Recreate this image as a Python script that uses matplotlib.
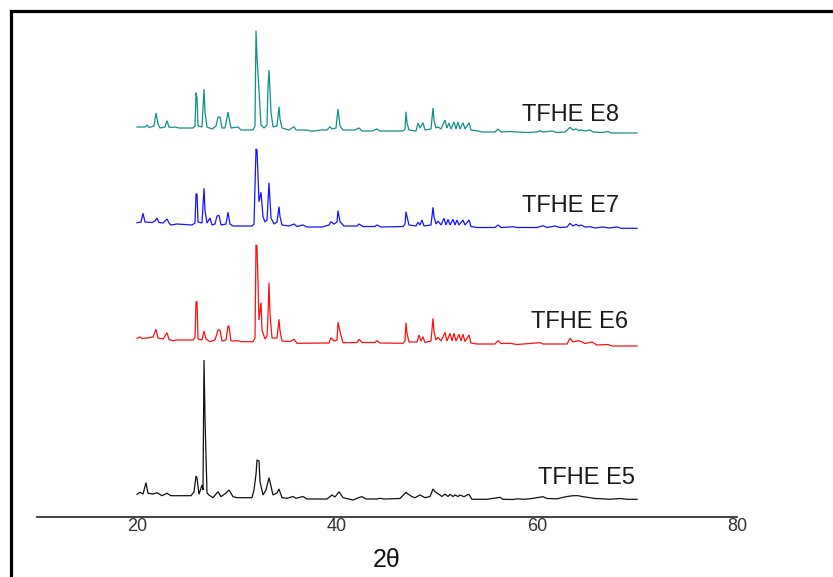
import matplotlib
matplotlib.use("Agg")
import matplotlib.pyplot as plt
from matplotlib.lines import Line2D

plt.rcParams['font.family'] = ['Liberation Sans', 'DejaVu Sans']

# 2theta positions and intensities (arbitrary units)
e8_2theta = [20.0, 20.8, 21.0, 21.2, 21.7, 21.9, 22.1, 22.3, 22.8, 23.0, 23.2, 23.5, 23.8, 24.2,
             25.6, 25.8, 25.9, 26.0, 26.1, 26.5, 26.7, 26.8, 27.0, 27.5, 27.9, 28.1, 28.3, 28.5,
             28.8, 29.1, 29.2, 29.4, 30.1, 30.4, 31.6, 31.8, 31.9, 32.0, 32.2, 32.4, 32.7, 33.0,
             33.1, 33.2, 33.4, 33.6, 34.0, 34.2, 34.3, 34.5, 35.2, 35.7, 35.9, 37.0, 37.3, 37.8,
             38.3, 39.0, 39.3, 39.5, 39.9, 40.1, 40.3, 40.6, 41.8, 42.2, 42.5, 43.5, 44.0, 44.3,
             46.6, 46.8, 46.9, 47.0, 47.2, 47.9, 48.1, 48.3, 48.6, 48.8, 49.4, 49.6, 49.7, 49.9,
             50.1, 50.4, 50.8, 51.0, 51.2, 51.4, 51.7, 51.9, 52.1, 52.3, 52.6, 52.8, 53.2, 53.4,
             54.1, 54.5, 55.8, 56.1, 56.4, 57.3, 58.0, 59.0, 60.0, 60.3, 60.6, 61.5, 62.0, 62.8,
             63.3, 63.6, 63.9, 64.2, 64.4, 64.8, 65.3, 65.6, 66.5, 67.1, 67.4, 70.0]
e8_int = [8, 8, 10, 7.5, 9, 22, 11, 7, 8, 14.3, 8, 7.5, 8, 7,
          7, 9, 42.3, 37, 9, 8, 46, 23, 8, 6, 9, 18, 18, 7,
          7, 23, 17, 7, 8, 5, 5, 9, 104.3, 78, 44.3, 10, 7, 10,
          47, 65, 23, 8, 9, 28.3, 16, 7, 5, 8.3, 5, 5, 4, 4,
          5, 5, 8.3, 6, 7, 26, 9, 5, 5, 7, 4, 4, 6, 4,
          4, 6, 23.3, 12, 5, 4, 12, 7, 12.3, 5, 6, 27, 15, 7,
          8, 6, 15, 7, 12, 6, 13, 6, 13, 6, 12.3, 6, 12.3, 5,
          4, 3, 3, 6, 3, 3.5, 3, 2.5, 3, 4.3, 3, 4, 2.5, 3,
          7.7, 5, 6, 4.5, 5, 4, 5, 3, 2.5, 3.5, 2, 2]

e7_2theta = [20.0, 20.4, 20.6, 20.8, 21.5, 21.8, 22.0, 22.2, 22.6, 23.0, 23.2, 23.4, 24.0, 25.5,
             25.8, 25.9, 26.0, 26.1, 26.5, 26.7, 26.8, 27.0, 27.3, 27.5, 27.8, 28.0, 28.2, 28.4,
             28.9, 29.1, 29.3, 29.6, 31.5, 31.7, 31.9, 32.0, 32.2, 32.4, 32.6, 32.8, 33.0, 33.1,
             33.2, 33.4, 33.7, 34.0, 34.2, 34.3, 34.5, 35.2, 35.7, 36.0, 36.6, 37.0, 38.5, 39.2,
             39.4, 39.7, 40.0, 40.1, 40.3, 40.7, 42.0, 42.2, 42.6, 43.8, 44.0, 44.4, 46.6, 46.8,
             46.9, 47.0, 47.2, 47.9, 48.1, 48.3, 48.5, 48.7, 49.4, 49.6, 49.7, 49.9, 50.1, 50.4,
             50.7, 50.9, 51.1, 51.3, 51.6, 51.8, 52.0, 52.2, 52.6, 52.8, 53.2, 53.4, 54.0, 55.8,
             56.1, 56.4, 57.3, 57.6, 58.0, 60.0, 60.6, 61.0, 61.8, 62.3, 63.0, 63.3, 63.6, 63.9,
             64.2, 64.4, 64.8, 65.3, 65.8, 66.6, 67.2, 68.0, 68.4, 70.0]
e7_int = [6.3, 7, 15.7, 7, 6.5, 8, 11, 6.5, 6, 10, 6, 4, 5, 4,
          6, 35, 35, 7, 6, 40.7, 18.3, 6, 11, 4, 5, 13, 13.7, 4,
          5, 16.7, 5, 3, 3, 5, 80, 79, 27.3, 36.7, 12.3, 7, 9, 27.3,
          46.3, 11, 5, 7, 22.3, 12.3, 4, 3, 5, 2.5, 4, 2, 2, 4,
          7.3, 5, 7, 18.3, 7.3, 3, 3, 5, 2.5, 2.5, 4, 2, 2.5, 5,
          17.3, 12.3, 4, 3, 6.7, 4, 9, 3, 4, 21.7, 12.3, 5, 8, 4,
          10.7, 4, 9.7, 4, 9.7, 4, 9, 4, 9, 4, 9, 2.5, 1.5, 1.5,
          4, 1.5, 2, 2.3, 1.5, 1.5, 3.3, 1.5, 3, 1.5, 2, 5.7, 3, 4.7,
          3, 4, 2, 2.3, 1, 2, 1, 2, 0.7, 0.7]

e6_2theta = [20.0, 20.3, 20.5, 21.0, 21.6, 21.9, 22.1, 22.6, 23.0, 23.2, 23.6, 24.0, 25.6, 25.8,
             25.9, 26.0, 26.1, 26.5, 26.7, 26.9, 27.3, 27.8, 28.1, 28.3, 28.5, 28.9, 29.1, 29.2,
             29.4, 30.1, 30.4, 31.6, 31.8, 31.9, 32.0, 32.2, 32.4, 32.5, 32.8, 33.0, 33.1, 33.2,
             33.3, 33.5, 34.0, 34.2, 34.3, 34.5, 35.3, 35.7, 36.0, 39.2, 39.4, 39.7, 40.0, 40.1,
             40.3, 40.6, 42.0, 42.2, 42.5, 43.8, 44.0, 44.3, 46.6, 46.8, 46.9, 47.0, 47.2, 48.0,
             48.2, 48.4, 48.6, 48.8, 49.4, 49.6, 49.7, 49.9, 50.1, 50.4, 50.8, 51.0, 51.3, 51.5,
             51.7, 51.9, 52.2, 52.4, 52.6, 52.8, 53.2, 53.4, 54.0, 55.8, 56.1, 56.4, 57.3, 58.0,
             59.9, 60.3, 60.6, 62.3, 63.0, 63.3, 63.6, 64.1, 64.4, 64.8, 65.5, 66.0, 67.1, 67.5,
             70.0]
e6_int = [8.7, 10, 8.5, 9, 10, 17.7, 9, 8, 14.3, 7.5, 6.3, 7, 7, 9,
          45.3, 45.3, 8, 7, 16, 8, 5.3, 7, 17, 17, 6, 7, 21.3, 20.3,
          6, 6.3, 5.3, 5.3, 9, 102, 101, 27, 44.3, 17, 8, 11, 32, 64.3,
          33, 9, 9, 27.7, 16.3, 6, 5.5, 7.7, 3.7, 4, 9.3, 6, 7, 24.7,
          15.3, 4.3, 4.5, 7.7, 4.5, 4.5, 6.3, 4, 3.7, 6, 24.3, 13.7, 5, 5,
          12, 6, 10.3, 4.5, 6, 28.7, 15.3, 7, 9.7, 6, 14.7, 6, 13.7, 6,
          13.7, 6, 12.7, 6, 12.7, 5.5, 12, 4, 3, 3, 6.3, 3.5, 3.7, 2.5,
          4, 4.3, 3, 3, 3, 8.7, 5, 6.3, 5.5, 3.5, 5, 2, 2.5, 1,
          1]

e5_2theta = [20.0, 20.3, 20.6, 20.9, 21.1, 21.6, 22.0, 22.5, 23.0, 23.4, 25.4, 25.7, 25.9, 26.0,
             26.2, 26.5, 26.6, 26.7, 26.8, 27.0, 27.2, 27.6, 28.1, 28.4, 28.9, 29.2, 29.6, 30.0,
             31.5, 31.7, 31.9, 32.0, 32.2, 32.3, 32.6, 32.9, 33.2, 33.3, 33.6, 34.0, 34.2, 34.5,
             35.0, 35.6, 35.9, 36.6, 37.0, 39.0, 39.5, 39.8, 40.2, 40.6, 41.6, 42.2, 42.5, 42.9,
             44.0, 44.3, 44.7, 46.3, 46.9, 47.0, 47.5, 47.8, 48.3, 48.8, 49.3, 49.6, 49.8, 50.3,
             50.5, 50.8, 51.1, 51.3, 51.6, 51.8, 52.1, 52.3, 52.7, 53.0, 53.2, 53.5, 55.0, 56.3,
             56.6, 57.6, 58.1, 58.6, 59.3, 60.6, 61.0, 62.0, 62.9, 63.6, 64.1, 64.6, 65.3, 65.8,
             66.6, 67.2, 68.3, 69.0, 70.0]
e5_int = [7.7, 9.7, 8, 19.3, 8.7, 8, 9.3, 6.3, 8.7, 6.3, 6.3, 10, 26, 24,
          7.7, 17, 12, 142, 83.7, 9, 7, 4.3, 10.3, 5.3, 9, 12, 5.3, 4.3,
          4.3, 12, 27.7, 42, 41, 20.3, 7, 12, 24.3, 20.3, 7, 9, 13, 4.3,
          3.7, 5.5, 3.7, 5.5, 3, 3, 7, 5, 10.3, 4.3, 2, 4.5, 5.3, 3,
          3, 3.7, 3, 3.5, 9.7, 8.7, 5.3, 4.3, 7, 4.3, 5.5, 13, 10.3, 7,
          5.5, 8, 5.5, 7.7, 5.5, 7, 5.5, 7, 5.3, 7, 7.7, 2.7, 2.7, 4.7,
          2.7, 2.5, 3.2, 2.7, 3.2, 5.3, 3.5, 3.2, 5.3, 6.3, 6.3, 5.3, 4.3, 3.5,
          3.2, 2.7, 3.5, 2.7, 2.7]

samples = ["TFHE E8", "TFHE E7", "TFHE E6", "TFHE E5"]
offsets = [382, 288, 170, 15]
colors = ["#11908a", "#1414ff", "#ff1010", "#111111"]
x_ticks = [20, 40, 60, 80]

fig = plt.figure(figsize=(8.33, 5.77), dpi=100)
ax = fig.add_axes([37 / 833, 1 - 517 / 577, 700 / 833, 500 / 577])

series = [(e8_2theta, e8_int), (e7_2theta, e7_int), (e6_2theta, e6_int), (e5_2theta, e5_int)]
label_pos = [(58.5, 402), (58.5, 311), (59.4, 195), (60.1, 39)]
for (tt, inten), off, col, name, (lx, ly) in zip(series, offsets, colors, samples, label_pos):
    ax.plot(tt, [off + v for v in inten], color=col, lw=0.9, solid_joinstyle='miter')
    ax.text(lx, ly, name, fontsize=17, color='#1a1a1a', ha='left', va='center')

ax.set_xlim(10, 80)
ax.set_ylim(0, 500)
for s in ['top', 'right', 'left']:
    ax.spines[s].set_visible(False)
ax.spines['bottom'].set_linewidth(1.3)
ax.spines['bottom'].set_color('#333333')
ax.set_yticks([])
ax.set_xticks(x_ticks)
ax.tick_params(axis='x', length=0, pad=1, labelsize=13, labelcolor='#333333')
ax.set_xlabel("2θ", fontsize=18, color='#111111', labelpad=9)

# outer frame (cut off at right and bottom in the reference)
fig.add_artist(Line2D([11 / 833, 11 / 833], [0, 1 - 10.5 / 577], transform=fig.transFigure,
                      color='black', lw=2.3, solid_capstyle='projecting'))
fig.add_artist(Line2D([11 / 833, 1], [1 - 10.5 / 577, 1 - 10.5 / 577], transform=fig.transFigure,
                      color='black', lw=2.3, solid_capstyle='projecting'))

fig.savefig("out.png", dpi=100)
